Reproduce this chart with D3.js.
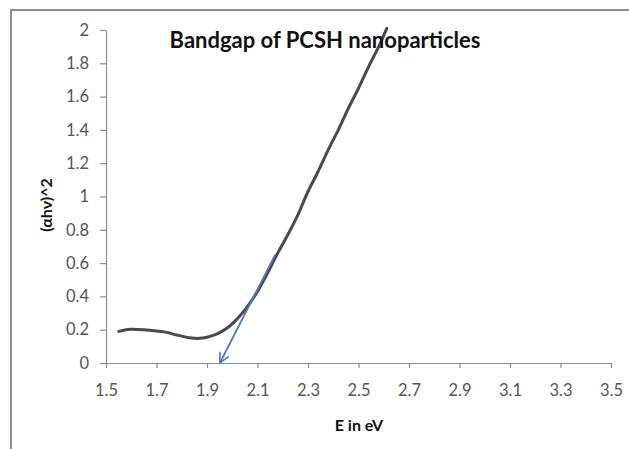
<!DOCTYPE html>
<html>
<head>
<meta charset="utf-8">
<script src="https://cdn.jsdelivr.net/npm/d3@7"></script>
<style>
  body { margin: 0; background: #fff; }
  text { font-family: Lato, "Liberation Sans", sans-serif; }
</style>
</head>
<body>
<div id="chart"></div>
<script>
// Tauc plot data: photon energy (eV) and (alpha h nu)^2
let energy = [1.55, 1.57, 1.60, 1.65, 1.70, 1.74, 1.78, 1.83, 1.87, 1.90, 1.94,
              1.98, 2.01, 2.04, 2.07, 2.10, 2.14, 2.18, 2.22, 2.26, 2.30, 2.34,
              2.38, 2.42, 2.46, 2.50, 2.54, 2.58, 2.612];
let absorb = [0.19, 0.197, 0.202, 0.199, 0.192, 0.184, 0.168, 0.152, 0.148, 0.155, 0.175,
              0.21, 0.25, 0.30, 0.36, 0.43, 0.54, 0.66, 0.77, 0.89, 1.03, 1.15,
              1.28, 1.40, 1.53, 1.65, 1.78, 1.90, 2.01];

// tangent (extrapolation) arrow: start on the curve, tip on the energy axis
let tangentX = [2.17, 1.951];
let tangentY = [0.65, 0];

let xTicks = [1.5, 1.7, 1.9, 2.1, 2.3, 2.5, 2.7, 2.9, 3.1, 3.3, 3.5];
let yTicks = [0, 0.2, 0.4, 0.6, 0.8, 1, 1.2, 1.4, 1.6, 1.8, 2];

let width = 629, height = 449;

let svg = d3.select("#chart")
  .append("svg")
  .attr("width", width)
  .attr("height", height);

// chart area frame (cut off at the right and bottom)
svg.append("rect")
  .attr("x", 11)
  .attr("y", 10)
  .attr("width", 700)
  .attr("height", 500)
  .attr("fill", "none")
  .attr("stroke", "#8c8c8c")
  .attr("stroke-width", 2);

let xScale = d3.scaleLinear().domain([1.5, 3.5]).range([106, 611]);
let yScale = d3.scaleLinear().domain([0, 2]).range([363, 30]);

// axes
svg.append("g")
  .attr("transform", "translate(0," + yScale(0) + ")")
  .call(d3.axisBottom(xScale)
    .tickValues(xTicks)
    .tickFormat(d => d.toFixed(1))
    .tickSize(5)
    .tickSizeOuter(0)
    .tickPadding(16));

svg.append("g")
  .attr("transform", "translate(" + xScale(1.5) + ",0)")
  .call(d3.axisLeft(yScale)
    .tickValues(yTicks)
    .tickFormat(d => String(+d.toFixed(1)))
    .tickSize(6)
    .tickSizeOuter(0)
    .tickPadding(11));

svg.selectAll(".domain, .tick line")
  .attr("stroke", "#8c8c8c")
  .attr("stroke-width", 1.2);
svg.selectAll(".tick text")
  .attr("fill", "#555")
  .style("font-size", "16.5px")
  .style("font-family", "Lato, sans-serif");

// data curve
let line = d3.line()
  .x((d, i) => xScale(energy[i]))
  .y((d, i) => yScale(absorb[i]))
  .curve(d3.curveCatmullRom);

svg.append("path")
  .datum(energy)
  .attr("d", line)
  .attr("fill", "none")
  .attr("stroke", "#4a4a4a")
  .attr("stroke-width", 3)
  .attr("stroke-linecap", "round");

// arrow marker
svg.append("defs")
  .append("marker")
  .attr("id", "arrow")
  .attr("viewBox", "0 0 12 12")
  .attr("refX", 11)
  .attr("refY", 6)
  .attr("markerWidth", 12)
  .attr("markerHeight", 12)
  .attr("markerUnits", "userSpaceOnUse")
  .attr("orient", "auto")
  .append("path")
  .attr("d", "M1,1 L11,6 L1,11")
  .attr("fill", "none")
  .attr("stroke", "#4a7ebb")
  .attr("stroke-width", 1.6);

svg.append("line")
  .attr("x1", xScale(tangentX[0]))
  .attr("y1", yScale(tangentY[0]))
  .attr("x2", xScale(tangentX[1]))
  .attr("y2", yScale(tangentY[1]))
  .attr("stroke", "#4a7ebb")
  .attr("stroke-width", 1.8)
  .attr("marker-end", "url(#arrow)");

// title and axis labels
svg.append("text")
  .attr("x", 325)
  .attr("y", 48)
  .attr("text-anchor", "middle")
  .style("font-size", "22px")
  .style("font-weight", "bold")
  .attr("fill", "#111")
  .text("Bandgap of PCSH nanoparticles");

svg.append("text")
  .attr("x", 359)
  .attr("y", 431)
  .attr("text-anchor", "middle")
  .style("font-size", "16px")
  .style("font-weight", "bold")
  .attr("fill", "#111")
  .text("E in eV");

svg.append("text")
  .attr("transform", "translate(52,205) rotate(-90)")
  .attr("text-anchor", "middle")
  .style("font-size", "16px")
  .style("font-weight", "bold")
  .attr("fill", "#111")
  .text("(αhν)^2");
</script>
</body>
</html>
